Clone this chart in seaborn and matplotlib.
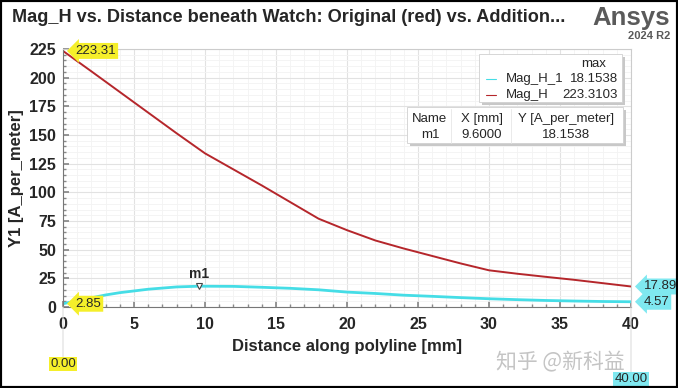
import matplotlib.pyplot as plt
import seaborn as sns
from matplotlib.lines import Line2D
from matplotlib.patches import Rectangle
from matplotlib.ticker import MultipleLocator

# Mag_H (original, red) sampled along the polyline
red_distance = [0, 2, 4, 6, 8, 10, 12, 14, 16, 18, 20, 22, 24, 26, 28, 30, 32, 34, 36, 38, 40]
red_mag_h = [223.31, 205.5, 187.5, 169.5, 151.5, 134, 120, 106, 91.5, 77, 67, 58, 51, 44.5, 38, 32,
             29, 26.3, 23.7, 20.8, 17.89]

# Mag_H_1 (addition, cyan)
cyan_distance = [0, 1, 2, 3, 4, 6, 8, 9.6, 12, 14, 16, 18, 20, 22, 24, 26, 28, 30, 32, 34, 36, 38, 40]
cyan_mag_h = [2.85, 5.5, 8, 10.5, 12.5, 15.5, 17.5, 18.15, 18, 17.2, 16.3, 15, 13, 11.8, 10.3,
              9.3, 8.2, 7.2, 6.4, 5.7, 5.2, 4.8, 4.57]

x_ticks = [0, 5, 10, 15, 20, 25, 30, 35, 40]
y_ticks = [0, 25, 50, 75, 100, 125, 150, 175, 200, 225]

marker_name = "m1"
marker_x = 9.6
marker_y = 18.1538
legend_names = ["Mag_H_1", "Mag_H"]
legend_max = ["18.1538", "223.3103"]
cursor_left = 0.0
cursor_right = 40.0

RED = "#b5262b"
CYAN = "#45dde6"
YELLOW = "#f5ef2a"
CYAN_BOX = "#7fe8f0"

sns.set_theme(style="white")
plt.rcParams["font.family"] = ["Liberation Sans", "Noto Sans CJK SC"]

W, H = 678, 388
fig = plt.figure(figsize=(W / 100, H / 100), dpi=100)
ax = fig.add_axes([63 / W, 1 - 307 / H, (631 - 63) / W, (307 - 49) / H])


def Px(x, y):
    return x / W, 1 - y / H


sns.lineplot(x=red_distance, y=red_mag_h, color=RED, linewidth=1.4, ax=ax)
sns.lineplot(x=cyan_distance, y=cyan_mag_h, color=CYAN, linewidth=2.0, ax=ax)

ax.set_xlim(0, 40)
ax.set_ylim(0, 225)
ax.set_xticks(x_ticks)
ax.set_yticks(y_ticks)
ax.xaxis.set_minor_locator(MultipleLocator(1))
ax.yaxis.set_minor_locator(MultipleLocator(5))
ax.grid(which="major", color="#e2e2e2", linewidth=0.8)
ax.grid(which="minor", color="#f3f3f3", linewidth=0.6)
ax.set_axisbelow(True)
ax.tick_params(which="both", direction="in", color="#888888", left=True, bottom=True)
ax.tick_params(which="major", length=4, labelsize=11.5)
ax.tick_params(axis="x", which="major", pad=7)
ax.tick_params(axis="y", which="major", pad=5)
ax.tick_params(which="minor", length=2)
for label in ax.get_xticklabels() + ax.get_yticklabels():
    label.set_fontweight("bold")
for side in ["top", "right"]:
    ax.spines[side].set_color("#cccccc")
for side in ["left", "bottom"]:
    ax.spines[side].set_color("#777777")
for spine in ax.spines.values():
    spine.set_linewidth(0.8)

ax.set_xlabel("Distance along polyline [mm]", fontsize=12, fontweight="bold", labelpad=5)
ax.set_ylabel("Y1 [A_per_meter]", fontsize=12, fontweight="bold", labelpad=4)

# marker m1
ax.plot(marker_x, marker_y, marker="v", markersize=4, markerfacecolor="white",
        markeredgecolor="#444444", markeredgewidth=0.8)
ax.annotate(marker_name, (marker_x, marker_y), xytext=(0, 4), textcoords="offset points",
            ha="center", va="bottom", fontsize=10, fontweight="bold")

# cursor value callouts
callouts = [
    (cursor_left, red_mag_h[0], "%.2f" % red_mag_h[0], YELLOW, 9),
    (cursor_left, cyan_mag_h[0], "%.2f" % cyan_mag_h[0], YELLOW, 9),
    (cursor_right, red_mag_h[-1], "%.2f" % red_mag_h[-1], CYAN_BOX, 9),
    (cursor_right, cyan_mag_h[-1], "%.2f" % cyan_mag_h[-1], CYAN_BOX, 9),
]
for cx, cy, text, box_color, dx in callouts:
    ax.annotate(text, (cx, cy), xytext=(dx, 0), textcoords="offset points", ha="left",
                va="center", fontsize=9.5, annotation_clip=False,
                bbox=dict(boxstyle="larrow,pad=0.15", facecolor=box_color, edgecolor="none"))

for cx, box_color, dy in [(cursor_left, YELLOW, -41), (cursor_right, CYAN_BOX, -52)]:
    ax.annotate("%.2f" % cx, (cx, 0), xycoords=("data", "axes fraction"), xytext=(0, dy),
                textcoords="offset points", ha="center", va="center", fontsize=9.5,
                annotation_clip=False,
                bbox=dict(boxstyle="square,pad=0.1", facecolor=box_color, edgecolor="none"),
                arrowprops=dict(arrowstyle="-", color="#dddddd", linewidth=0.8,
                                shrinkA=0, shrinkB=0))

# legend box with max values
fig.patches.append(Rectangle(Px(482, 105), 143 / W, 48 / H, transform=fig.transFigure,
                             facecolor="#c8c8c8", edgecolor="none", zorder=4))
fig.patches.append(Rectangle(Px(479, 102), 143 / W, 48 / H, transform=fig.transFigure,
                             facecolor="white", edgecolor="#d0d0d0", linewidth=0.6, zorder=5))
fig.text(*Px(594, 64), "max", ha="center", va="center", fontsize=9.5, zorder=6)
for i, (name, value, color) in enumerate(zip(legend_names, legend_max, [CYAN, RED])):
    row_y = 79 + 16 * i
    fig.lines.append(Line2D([486 / W, 496 / W], [1 - row_y / H] * 2, transform=fig.transFigure,
                            color=color, linewidth=0.8, zorder=6))
    fig.text(*Px(506, row_y), name, ha="left", va="center", fontsize=9.5, zorder=6)
    fig.text(*Px(618, row_y), value, ha="right", va="center", fontsize=9.5, zorder=6)

# marker table
fig.patches.append(Rectangle(Px(410, 146), 216 / W, 36 / H, transform=fig.transFigure,
                             facecolor="#c8c8c8", edgecolor="none", zorder=4))
fig.patches.append(Rectangle(Px(407, 143), 216 / W, 36 / H, transform=fig.transFigure,
                             facecolor="white", edgecolor="#d0d0d0", linewidth=0.6, zorder=5))
for sep_x in [451, 511]:
    fig.lines.append(Line2D([sep_x / W] * 2, [1 - 109 / H, 1 - 143 / H], transform=fig.transFigure,
                            color="#e6e6e6", linewidth=0.6, zorder=6))
table_rows = [["Name", "X [mm]", "Y [A_per_meter]"],
              [marker_name, "%.4f" % marker_x, "%.4f" % marker_y]]
for r, row in enumerate(table_rows):
    for col_x, cell in zip([430, 482, 566], row):
        fig.text(*Px(col_x, 119 + 16 * r), cell, ha="center", va="center", fontsize=9.5, zorder=6)

# title and branding
fig.text(*Px(12, 18), "Mag_H vs. Distance beneath Watch: Original (red) vs. Addition...",
         ha="left", va="center", fontsize=13.1, fontweight="bold")
fig.text(*Px(670, 18), "Ansys", ha="right", va="center", fontsize=18.5, fontweight="bold",
         color="#5a5a5a")
fig.text(*Px(670, 36), "2024 R2", ha="right", va="center", fontsize=8, fontweight="bold",
         color="#5a5a5a")
fig.text(*Px(560, 362), "知乎 @新科益", ha="center", va="center", fontsize=15,
         color="#c4c4c4", family=["Noto Sans CJK SC"])

# outer frame
fig.patches.append(Rectangle((0, 0), 1, 1, transform=fig.transFigure, facecolor="none",
                             edgecolor="black", linewidth=3, zorder=10))

fig.savefig("out.png", dpi=100)
